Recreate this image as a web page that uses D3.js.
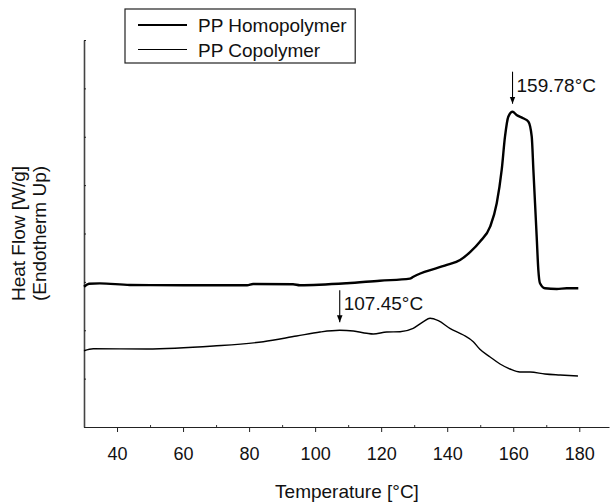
<!DOCTYPE html>
<html>
<head>
<meta charset="utf-8">
<script src="https://cdn.jsdelivr.net/npm/d3@7"></script>
<style>
  body { margin: 0; background: #fff; }
  svg { font-family: Arial, "Liberation Sans", sans-serif; }
</style>
</head>
<body>
<div id="chart"></div>
<script>
// temperatures [°C] and heat flow (arbitrary units, no y labels in the original)
var homoT = [30, 31.5, 34.8, 43.9, 60, 79.4, 81.2, 93.3, 95.4, 109.6, 119.6, 128.7, 129.6, 130.8,
             139.9, 143.9, 147, 149.9, 153.0, 155.0, 156.5, 157.5, 158.5, 159.78, 161.0, 163.0, 164.6,
             165.6, 166.1, 166.6, 167.1, 167.6, 168.1, 169.6, 173.2, 176.2, 179.7];
var homoY = [2.90, 2.96, 2.97, 2.935, 2.93, 2.929, 2.956, 2.95, 2.93, 2.971, 3.024, 3.066, 3.10, 3.142,
             3.349, 3.452, 3.62, 3.83, 4.141, 4.624, 5.313, 6.001, 6.414, 6.518, 6.45, 6.382, 6.311,
             6.001, 5.313, 4.624, 3.934, 3.245, 2.97, 2.867, 2.853, 2.867, 2.867];

var copoT = [30, 32.8, 49.0, 69.2, 84.3, 94.4, 101.5, 107.45, 111.6, 115.6, 117.6, 121.7, 125.7, 129.7,
             132.8, 134.8, 137.3, 140.8, 144.9, 147.9, 149.9, 153.0, 156.0, 159.0, 162.0, 165.1,
             169.6, 174.2, 179.6];
var copoY = [1.577, 1.619, 1.612, 1.674, 1.763, 1.881, 1.964, 1.999, 1.985, 1.937, 1.922, 1.964, 1.970, 2.040,
             2.177, 2.247, 2.197, 2.040, 1.902, 1.763, 1.606, 1.447, 1.302, 1.199, 1.137, 1.137,
             1.096, 1.075, 1.054];

var seriesNames = ["PP Homopolymer", "PP Copolymer"];
var peakT = [159.78, 107.45];
var peakLabels = ["159.78\u00B0C", "107.45\u00B0C"];
var xTicks = [40, 60, 80, 100, 120, 140, 160, 180];

var W = 610, H = 503;
var margin = {top: 40, right: 1, bottom: 76, left: 84};
var FS = 18;

var svg = d3.select("#chart").append("svg")
    .attr("width", W)
    .attr("height", H);

var x = d3.scaleLinear()
    .domain([30, 189])
    .range([margin.left, W - margin.right]);

var y = d3.scaleLinear()
    .domain([0, 8])
    .range([H - margin.bottom, margin.top]);

// minor ticks (small, inward)
svg.append("g")
    .attr("transform", "translate(0," + (H - margin.bottom) + ")")
    .call(d3.axisTop(x).tickValues(d3.range(50, 190, 20)).tickSize(2).tickFormat(""))
    .call(function(g){ g.select(".domain").remove(); })
    .selectAll("line").attr("stroke", "#333");

// x axis
var xAxis = svg.append("g")
    .attr("transform", "translate(0," + (H - margin.bottom) + ")")
    .call(d3.axisBottom(x).tickValues(xTicks).tickSize(5).tickSizeOuter(0).tickPadding(15));
xAxis.select(".domain").attr("stroke", "#222").attr("stroke-width", 1.2);
xAxis.selectAll("line").attr("stroke", "#222");
xAxis.selectAll("text").attr("font-size", FS).attr("fill", "#111")
    .attr("font-family", "Arial, 'Liberation Sans', sans-serif");

// y axis, no labels
var yAxis = svg.append("g")
    .attr("transform", "translate(" + margin.left + ",0)")
    .call(d3.axisRight(y).ticks(8).tickSize(2).tickSizeOuter(0).tickFormat(""));
yAxis.select(".domain").attr("stroke", "#444").attr("stroke-width", 1.6);
yAxis.selectAll("line").attr("stroke", "#222");

// axis titles
svg.append("text")
    .attr("x", (margin.left + W) / 2)
    .attr("y", 498)
    .attr("text-anchor", "middle")
    .attr("font-size", 19)
    .attr("fill", "#111")
    .text("Temperature [\u00B0C]");

var yt = svg.append("text")
    .attr("transform", "translate(25," + ((margin.top + H - margin.bottom) / 2) + ") rotate(-90)")
    .attr("text-anchor", "middle")
    .attr("font-size", 19)
    .attr("fill", "#111");
yt.append("tspan").attr("x", 0).attr("dy", 0).text("Heat Flow [W/g]");
yt.append("tspan").attr("x", 0).attr("dy", 21).text("(Endotherm Up)");

// curves
var line = d3.line()
    .x(function(d){ return x(d[0]); })
    .y(function(d){ return y(d[1]); })
    .curve(d3.curveMonotoneX);

var homo = d3.zip(homoT, homoY);
var copo = d3.zip(copoT, copoY);

svg.append("path").datum(homo)
    .attr("d", line)
    .attr("fill", "none")
    .attr("stroke", "#000")
    .attr("stroke-width", 2.4)
    .attr("stroke-linejoin", "round");

svg.append("path").datum(copo)
    .attr("d", line)
    .attr("fill", "none")
    .attr("stroke", "#000")
    .attr("stroke-width", 1.4)
    .attr("stroke-linejoin", "round");

// peak arrows
svg.append("defs").append("marker")
    .attr("id", "arrow")
    .attr("viewBox", "0 0 10 10")
    .attr("refX", 10).attr("refY", 5)
    .attr("markerWidth", 7).attr("markerHeight", 7)
    .attr("markerUnits", "userSpaceOnUse")
    .attr("orient", "auto")
  .append("path")
    .attr("d", "M0,1 L10,5 L0,9 Z")
    .attr("fill", "#000");

var peakY = [d3.max(homoY), copoY[copoT.indexOf(107.45)]];
peakT.forEach(function(t, i){
    var px = x(t), py = y(peakY[i]) - 8;
    svg.append("line")
        .attr("x1", px).attr("x2", px)
        .attr("y1", py - 32).attr("y2", py)
        .attr("stroke", "#000").attr("stroke-width", 1.1)
        .attr("marker-end", "url(#arrow)");
    svg.append("text")
        .attr("x", px + 4)
        .attr("y", py - 12)
        .attr("font-size", 19)
        .attr("fill", "#111")
        .text(peakLabels[i]);
});

// legend
var leg = svg.append("g");
var legW = [2.2, 1.2];
var legItems = leg.selectAll("g.item").data(seriesNames).enter().append("g")
    .attr("transform", function(d, i){ return "translate(138," + (25 + i * 24.5) + ")"; });
legItems.append("line")
    .attr("x1", 0).attr("x2", 49)
    .attr("stroke", "#000")
    .attr("stroke-width", function(d, i){ return legW[i]; });
legItems.append("text")
    .attr("x", 60).attr("y", 7)
    .attr("font-size", 19)
    .attr("fill", "#111")
    .text(function(d){ return d; });

var bb = leg.node().getBBox();
leg.insert("rect", ":first-child")
    .attr("x", 125).attr("y", 9)
    .attr("width", bb.x + bb.width + 8 - 125)
    .attr("height", 54)
    .attr("fill", "#fff")
    .attr("stroke", "#222")
    .attr("stroke-width", 1.2);
</script>
</body>
</html>
